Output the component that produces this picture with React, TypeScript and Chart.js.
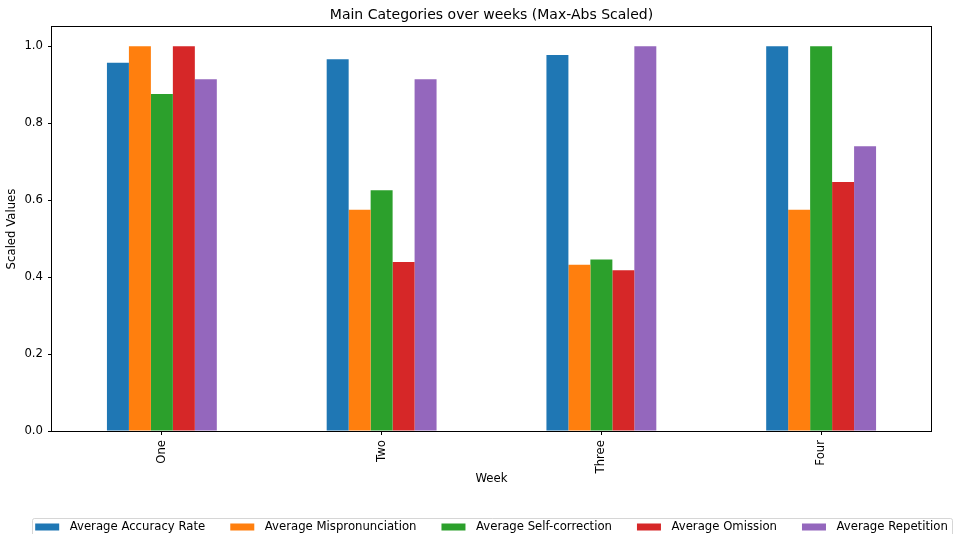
import React, { useEffect, useRef } from 'react';
import { Chart, registerables } from 'chart.js';

Chart.register(...registerables);

const WEEKS = ['One', 'Two', 'Three', 'Four'];
const SERIES_LABELS = [
  'Average Accuracy Rate',
  'Average Mispronunciation',
  'Average Self-correction',
  'Average Omission',
  'Average Repetition',
];
const ACCURACY = [0.957, 0.966, 0.977, 1.0];
const MISPRONUNCIATION = [1.0, 0.575, 0.432, 0.575];
const SELF_CORRECTION = [0.876, 0.626, 0.446, 1.0];
const OMISSION = [1.0, 0.439, 0.418, 0.647];
const REPETITION = [0.914, 0.914, 1.0, 0.74];
const SERIES_VALUES = [ACCURACY, MISPRONUNCIATION, SELF_CORRECTION, OMISSION, REPETITION];
const COLORS = ['#1f77b4', '#ff7f0e', '#2ca02c', '#d62728', '#9467bd'];
const Y_TICKS = [0, 0.2, 0.4, 0.6, 0.8, 1.0];
const Y_MAX = 1.05;

const TITLE = 'Main Categories over weeks (Max-Abs Scaled)';
const X_TITLE = 'Week';
const Y_TITLE = 'Scaled Values';

const FONT = '"DejaVu Sans", Verdana, sans-serif';
const BASE = 11.7;

const framePlugin = {
  id: 'mplFrame',
  afterDatasetsDraw(chart: any) {
    const { ctx, chartArea: a } = chart;
    ctx.save();
    ctx.strokeStyle = '#000';
    ctx.lineWidth = 1;
    ctx.strokeRect(a.left - 0.5, a.top - 0.5, a.right - a.left + 1, a.bottom - a.top + 1);
    ctx.restore();
  },
};

const legendPlugin = {
  id: 'mplLegend',
  afterDraw(chart: any) {
    const { ctx, chartArea } = chart;
    ctx.save();
    ctx.font = `${BASE}px ${FONT}`;
    const items = chart.data.datasets.map((d: any) => ({
      text: d.label as string,
      color: d.backgroundColor as string,
      w: ctx.measureText(d.label).width,
    }));
    const handleW = 24;
    const handleH = 7;
    const textPad = 10.5;
    const colSpace = 25;
    const borderPad = 3.5;
    const total =
      items.reduce((s: number, it: any) => s + handleW + textPad + it.w, 0) +
      colSpace * (items.length - 1);
    const cx = (chartArea.left + chartArea.right) / 2;
    let x = cx - total / 2;
    const frameTop = Math.round(chartArea.bottom + 87) + 0.5;
    const cy = frameTop + 8.5;

    // frame
    ctx.fillStyle = 'rgba(255,255,255,0.8)';
    ctx.strokeStyle = 'rgba(204,204,204,0.8)';
    ctx.lineWidth = 1;
    ctx.beginPath();
    const fx = Math.round(x - borderPad) + 0.5;
    const fw = Math.round(total + 2 * borderPad);
    (ctx as any).roundRect(fx, frameTop, fw, 40, 2);
    ctx.fill();
    ctx.stroke();

    ctx.textBaseline = 'middle';
    ctx.textAlign = 'left';
    for (const it of items) {
      ctx.fillStyle = it.color;
      ctx.fillRect(x, cy - handleH / 2, handleW, handleH);
      ctx.fillStyle = '#000';
      ctx.fillText(it.text, x + handleW + textPad, cy);
      x += handleW + textPad + it.w + colSpace;
    }
    ctx.restore();
  },
};

export default function App() {
  const canvasRef = useRef<HTMLCanvasElement | null>(null);

  useEffect(() => {
    if (!canvasRef.current) return;
    const chart = new Chart(canvasRef.current, {
      type: 'bar',
      data: {
        labels: WEEKS,
        datasets: SERIES_LABELS.map((label, i) => ({
          label,
          data: SERIES_VALUES[i],
          backgroundColor: COLORS[i],
          borderWidth: 0,
          categoryPercentage: 0.5,
          barPercentage: 1.0,
        })),
      },
      options: {
        responsive: false,
        animation: false,
        devicePixelRatio: 1,
        layout: { padding: { left: 0, right: 25, top: 0, bottom: 38 } },
        plugins: {
          legend: { display: false },
          tooltip: { enabled: false },
          title: {
            display: true,
            text: TITLE,
            fullSize: false,
            color: '#000',
            font: { family: FONT, size: 14, weight: 'normal' as any, lineHeight: 1.2 },
            padding: { top: 6.6, bottom: 3.6 },
          },
        },
        scales: {
          x: {
            grid: {
              display: true,
              drawOnChartArea: false,
              drawTicks: true,
              tickLength: 4,
              color: '#000',
              lineWidth: 1,
              offset: false,
            },
            border: { display: false },
            ticks: {
              color: '#000',
              font: { family: FONT, size: BASE },
              maxRotation: 90,
              minRotation: 90,
              padding: 5,
            },
            title: {
              display: true,
              text: X_TITLE,
              color: '#000',
              font: { family: FONT, size: BASE, lineHeight: 1.2 },
              padding: { top: 0, bottom: 10 },
            },
            afterFit(scale: any) {
              scale.height = 65;
            },
          },
          y: {
            min: 0,
            max: Y_MAX,
            grid: {
              display: true,
              drawOnChartArea: false,
              drawTicks: true,
              tickLength: 4,
              color: '#000',
              lineWidth: 1,
            },
            border: { display: false },
            afterBuildTicks(scale: any) {
              scale.ticks = Y_TICKS.map((v) => ({ value: v }));
            },
            ticks: {
              color: '#000',
              font: { family: FONT, size: BASE },
              padding: 5,
              callback: (v: any) => Number(v).toFixed(1),
            },
            title: {
              display: true,
              text: Y_TITLE,
              color: '#000',
              font: { family: FONT, size: BASE, lineHeight: 1.2 },
              padding: { top: 5, bottom: 0 },
            },
            afterFit(scale: any) {
              scale.width = 52;
            },
          },
        },
      },
      plugins: [framePlugin, legendPlugin],
    });
    return () => chart.destroy();
  }, []);

  return (
    <div style={{ position: 'absolute', left: 0, top: 0, width: 956, height: 534, background: '#fff' }}>
      <canvas ref={canvasRef} width={956} height={534} style={{ display: 'block' }} />
    </div>
  );
}
